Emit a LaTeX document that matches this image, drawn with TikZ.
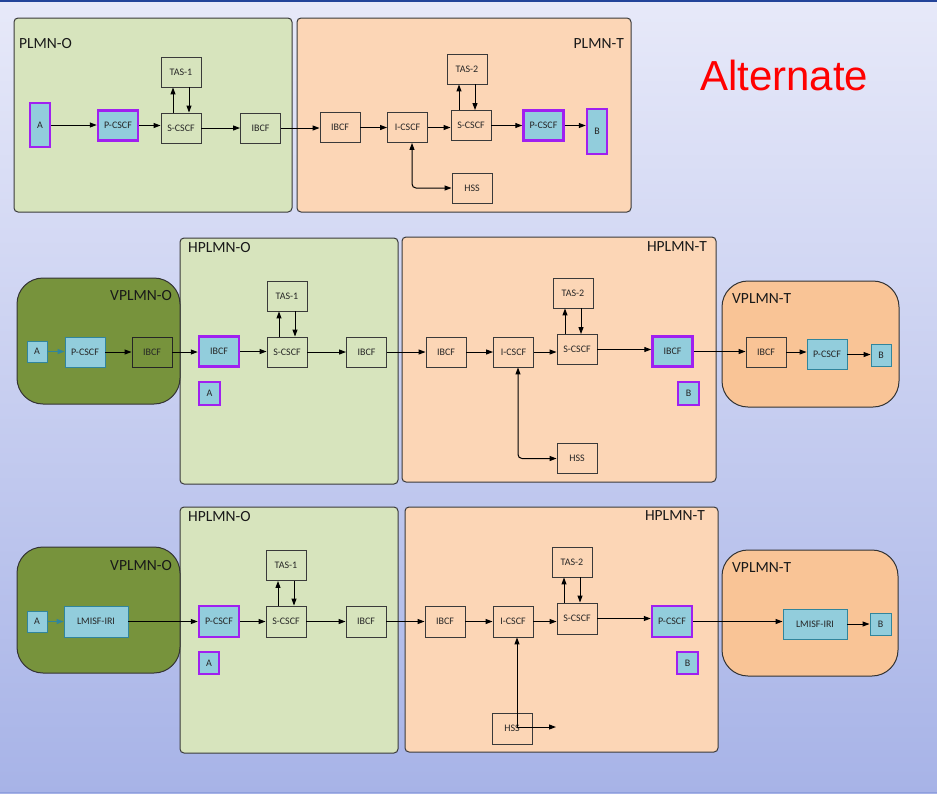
\documentclass[tikz,border=0pt]{standalone}
\usepackage{fontspec}
\setmainfont{Carlito}
\newfontfamily\arialf{Liberation Sans}
\usetikzlibrary{arrows.meta}
\definecolor{bgtop}{HTML}{E7E9F9}
\definecolor{bgbot}{HTML}{A7B3E7}
\definecolor{topline}{HTML}{23449A}
\definecolor{botline}{HTML}{8E9FDD}
\definecolor{lgreen}{HTML}{D7E4BD}
\definecolor{cpeach}{HTML}{FCD6B6}
\definecolor{cpeachd}{HTML}{F9C496}
\definecolor{colive}{HTML}{77933C}
\definecolor{lblue}{HTML}{92CDDC}
\definecolor{cteal}{HTML}{31859C}
\definecolor{cpurple}{HTML}{A020F0}
\definecolor{edge}{HTML}{3A3A3A}
\newcommand\harr[2]{\draw[arr] (#1.east) -- (#1.east -| #2.west);}
\newcommand\tasarr[3]{%
  \coordinate (#3u) at ([xshift=-8pt]#2.south);
  \coordinate (#3d) at ([xshift=8pt]#2.south);
  \draw[arr] (#3u |- #1.north) -- (#3u);
  \draw[arr] (#3d) -- (#3d |- #1.north);}
\tikzset{
  bx/.style={draw=edge, line width=0.9pt, minimum width=40pt, minimum height=30pt,
    inner sep=0pt, font=\fontsize{10}{12}\selectfont, text=black!85},
  blu/.style={bx, fill=lblue, draw=cteal},
  pur/.style={bx, fill=lblue, draw=cpurple, line width=2.5pt},
  region/.style={draw=edge, line width=1pt, rounded corners=4pt},
  vregion/.style={draw=black!80, line width=1pt, rounded corners=26pt},
  lbl/.style={font=\fontsize{15.5}{18}\selectfont, inner sep=0pt, text=black!90},
  arr/.style={-{Triangle[length=7pt,width=5pt]}, line width=1pt, draw=black},
  arrt/.style={arr, draw=cteal},
  arr2/.style={{Triangle[length=7pt,width=5pt]}-{Triangle[length=7pt,width=5pt]}, line width=1pt, draw=black, rounded corners=4pt}
}
\begin{document}
\begin{tikzpicture}[x=1pt,y=-1pt]
\useasboundingbox (0,0) rectangle (937,793);
\shade[top color=bgtop, bottom color=bgbot] (0,0) rectangle (937,793);
\fill[topline] (0,0) rectangle (937,2);
\fill[botline] (0,791.5) rectangle (937,793);

% ---------- regions ----------
\draw[region, fill=lgreen] (14,18) rectangle (292,212);
\draw[region, fill=cpeach] (297,18) rectangle (631,212);
\node[lbl, anchor=west] (lplmno) at (19,44) {PLMN-O};
\node[lbl, anchor=east] (lplmnt) at (624,44) {PLMN-T};
\node[anchor=base west, inner sep=0pt, text=red, font=\arialf\fontsize{42}{48}\selectfont] (alt) at (700,90) {Alternate};

\draw[region, fill=lgreen] (180,238) rectangle (398,484);
\draw[vregion, fill=colive] (17,278) rectangle (180,404);
\draw[region, fill=cpeach] (402,237) rectangle (716,482);
\draw[vregion, fill=cpeachd] (722,281) rectangle (899,407);
\node[lbl, anchor=west] (lh2o) at (188,248) {HPLMN-O};
\node[lbl, anchor=east] (lv2o) at (172,296) {VPLMN-O};
\node[lbl, anchor=east] (lh2t) at (707,247) {HPLMN-T};
\node[lbl, anchor=west] (lv2t) at (732,299) {VPLMN-T};

\draw[region, fill=lgreen] (180,507) rectangle (398,753);
\draw[vregion, fill=colive] (17,547) rectangle (180,673);
\draw[region, fill=cpeach] (405,507) rectangle (718,752);
\draw[vregion, fill=cpeachd] (722,550) rectangle (898,676);
\node[lbl, anchor=west] (lh3o) at (188,517) {HPLMN-O};
\node[lbl, anchor=east] (lv3o) at (172,566) {VPLMN-O};
\node[lbl, anchor=east] (lh3t) at (705,516) {HPLMN-T};
\node[lbl, anchor=west] (lv3t) at (732,568) {VPLMN-T};

% ---------- row 1 ----------
\node[pur, minimum width=20pt, minimum height=44pt] (a1) at (40,125) {A};
\node[pur] (p1) at (118,125.5) {P-CSCF};
\node[bx] (s1) at (181,128) {S-CSCF};
\node[bx] (t1) at (181,72) {TAS-1};
\node[bx] (i1) at (260.5,128) {IBCF};
\node[bx] (i1t) at (340,127.5) {IBCF};
\node[bx] (ic1) at (407.5,127.5) {I-CSCF};
\node[bx] (s1t) at (471,125.5) {S-CSCF};
\node[bx] (t1t) at (467,69) {TAS-2};
\node[pur] (p1t) at (543.5,125.5) {P-CSCF};
\node[pur, minimum width=20pt, minimum height=45pt] (b1) at (597,131.5) {B};
\node[bx] (h1) at (472,188) {HSS};
\harr{a1}{p1}
\harr{p1}{s1}
\harr{s1}{i1}
\harr{i1}{i1t}
\harr{i1t}{ic1}
\harr{ic1}{s1t}
\harr{s1t}{p1t}
\harr{p1t}{b1}
\tasarr{s1}{t1}{ta}
\tasarr{s1t}{t1t}{tb}
\coordinate (hc1) at ([xshift=4.5pt]ic1.south);
\draw[arr2] (hc1) |- (h1.west);

% ---------- row 2 ----------
\node[blu, minimum width=20pt, minimum height=21pt] (a2) at (37,351.5) {A};
\node[blu] (p2) at (85,352) {P-CSCF};
\node[bx, draw=black!85] (ib2a) at (152,352) {IBCF};
\node[pur] (ib2b) at (219,351.5) {IBCF};
\node[pur, minimum width=21pt, minimum height=23pt] (a2p) at (209.5,393.5) {A};
\node[bx] (t2) at (287,296) {TAS-1};
\node[bx] (s2) at (287,352) {S-CSCF};
\node[bx] (ib2c) at (366.5,352) {IBCF};
\node[bx] (ib2d) at (446,352) {IBCF};
\node[bx] (ic2) at (513.5,352) {I-CSCF};
\node[bx] (s2t) at (577,349.5) {S-CSCF};
\node[bx] (t2t) at (573,293) {TAS-2};
\node[pur] (ib2e) at (672.5,351.5) {IBCF};
\node[pur, minimum width=21pt, minimum height=23pt] (b2p) at (688.5,393.5) {B};
\node[bx] (h2) at (577,458.5) {HSS};
\node[bx] (ib2f) at (766,352) {IBCF};
\node[blu] (p2t) at (827,354.5) {P-CSCF};
\node[blu, minimum width=20pt, minimum height=22pt] (b2) at (881,355) {B};
\draw[arrt] (a2.east) -- (a2.east -| p2.west);
\harr{p2}{ib2a}
\harr{ib2a}{ib2b}
\harr{ib2b}{s2}
\harr{s2}{ib2c}
\harr{ib2c}{ib2d}
\harr{ib2d}{ic2}
\harr{ic2}{s2t}
\harr{s2t}{ib2e}
\harr{ib2e}{ib2f}
\harr{ib2f}{p2t}
\harr{p2t}{b2}
\tasarr{s2}{t2}{tc}
\tasarr{s2t}{t2t}{td}
\coordinate (hc2) at ([xshift=4.5pt]ic2.south);
\draw[arr2] (hc2) |- (h2.west);

% ---------- row 3 ----------
\node[blu, minimum width=20pt, minimum height=21pt] (a3) at (37,621.5) {A};
\node[blu, minimum width=64pt, minimum height=31pt] (l3) at (96,621.5) {LMISF-IRI};
\node[pur, minimum height=31pt] (p3) at (219,621.5) {P-CSCF};
\node[pur, minimum width=20pt, minimum height=22pt] (a3p) at (209,663) {A};
\node[bx] (t3) at (286,565.5) {TAS-1};
\node[bx, minimum height=31pt] (s3) at (286,621.5) {S-CSCF};
\node[bx, minimum height=31pt] (ib3) at (366,621.5) {IBCF};
\node[bx, minimum height=31pt] (ib3b) at (445,621.5) {IBCF};
\node[bx, minimum height=31pt] (ic3) at (513,621.5) {I-CSCF};
\node[bx, minimum height=31pt] (s3t) at (577,618.5) {S-CSCF};
\node[bx] (t3t) at (572,562) {TAS-2};
\node[pur, minimum height=31pt] (p3t) at (672,621.5) {P-CSCF};
\node[pur, minimum width=21pt, minimum height=22pt] (b3p) at (687.5,663) {B};
\node[bx, minimum height=31pt] (h3) at (512,728.5) {HSS};
\node[blu, minimum width=64pt] (l3t) at (815,624) {LMISF-IRI};
\node[blu, minimum width=21pt, minimum height=22pt] (b3) at (880.5,624) {B};
\draw[arrt] (a3.east) -- (a3.east -| l3.west);
\harr{l3}{p3}
\harr{p3}{s3}
\harr{s3}{ib3}
\harr{ib3}{ib3b}
\harr{ib3b}{ic3}
\harr{ic3}{s3t}
\harr{s3t}{p3t}
\harr{p3t}{l3t}
\harr{l3t}{b3}
\tasarr{s3}{t3}{te}
\tasarr{s3t}{t3t}{tf}
\coordinate (hs3) at (517,727);
\coordinate (hs3e) at (556,727);
\draw[arr] (hs3) -- (hs3 |- ic3.south);
\draw[arr] (hs3) -- (hs3e);
\end{tikzpicture}
\end{document}
